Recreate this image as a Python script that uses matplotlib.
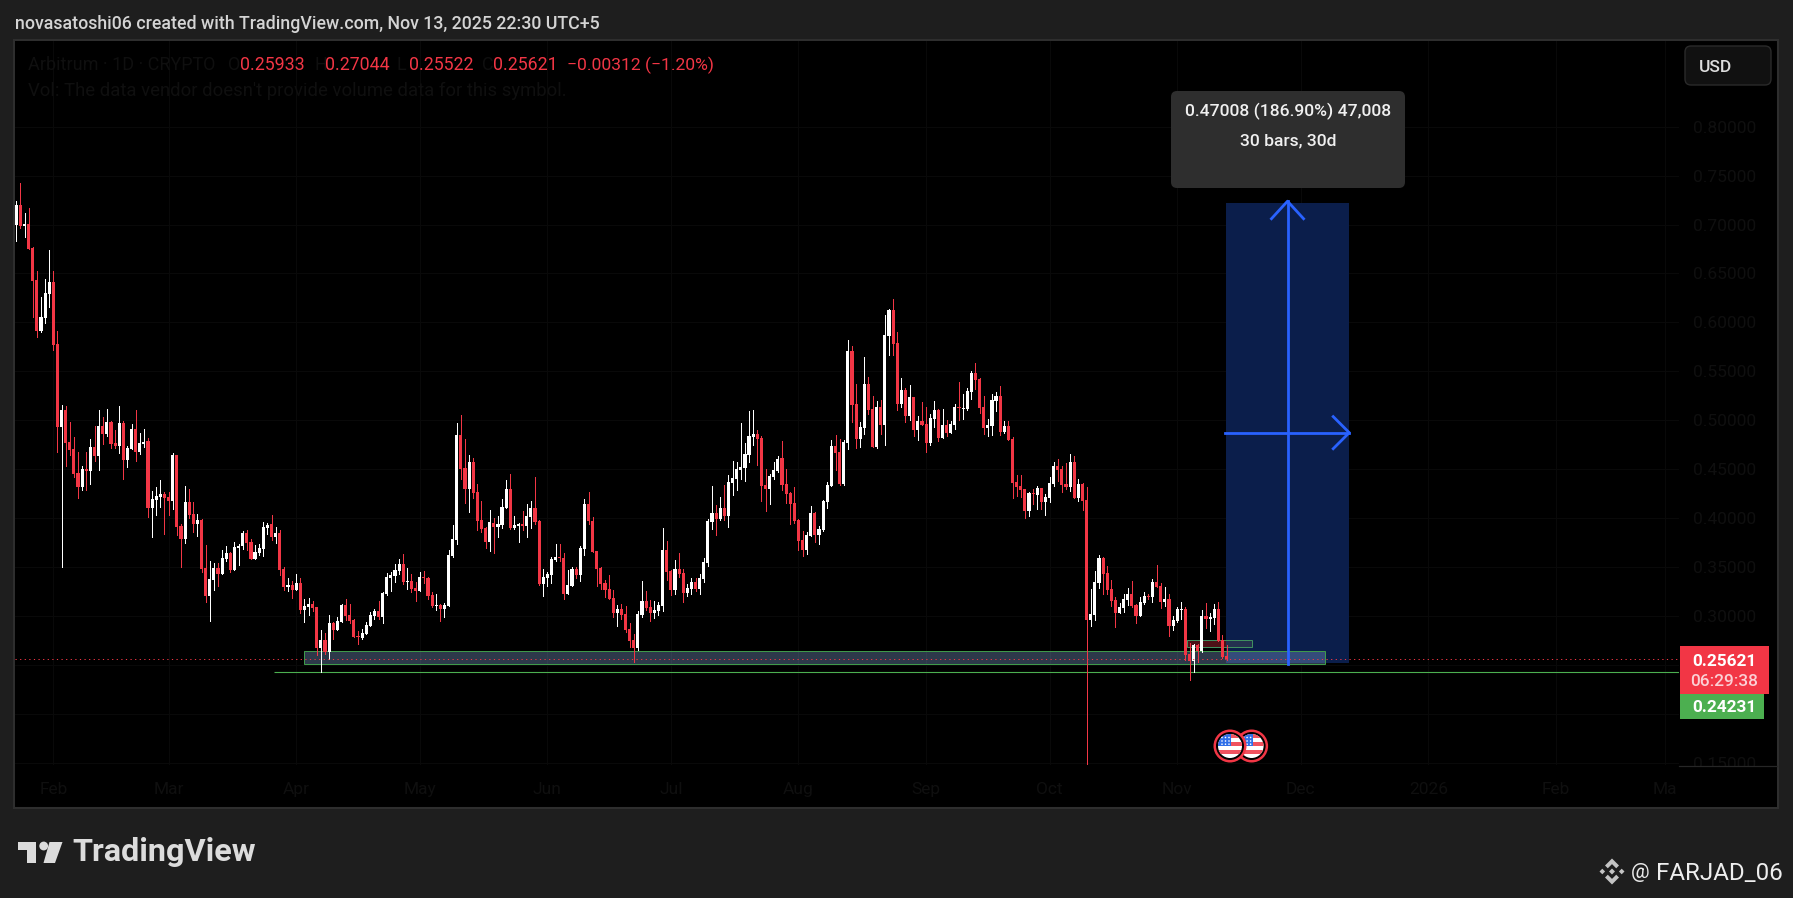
import numpy as np
import matplotlib
matplotlib.use("Agg")
import matplotlib.pyplot as plt
from matplotlib.patches import Rectangle, FancyBboxPatch, Circle, Polygon

plt.rcParams['font.family'] = ['Roboto', 'DejaVu Sans']

# daily candles, Arbitrum 1D, first bar is Jan 23 2025
highs = [
    .724,.742,.712,.717,.677,.653,.626,.644,.674,.653,
    .591,.516,.515,.498,.483,.468,.453,.468,.481,.494,
    .510,.503,.512,.499,.490,.515,.499,.474,.496,.511,
    .487,.491,.482,.428,.432,.439,.427,.427,.467,.465,
    .394,.433,.430,.416,.404,.399,.373,.356,.354,.354,
    .367,.371,.365,.376,.374,.387,.388,.379,.373,.374,
    .396,.395,.403,.391,.388,.350,.339,.336,.343,.339,
    .317,.318,.315,.309,.286,.283,.301,.294,.299,.312,
    .317,.312,.297,.285,.287,.294,.304,.307,.315,.325,
    .344,.345,.353,.358,.363,.349,.343,.335,.345,.346,
    .340,.324,.322,.312,.313,.367,.393,.497,.505,.481,
    .465,.461,.435,.418,.391,.408,.400,.402,.420,.439,
    .445,.402,.395,.407,.414,.418,.442,.398,.348,.345,
    .360,.374,.374,.364,.347,.350,.350,.371,.420,.427,
    .401,.366,.350,.337,.342,.327,.311,.312,.310,.293,
    .282,.305,.336,.326,.316,.315,.314,.390,.377,.347,
    .357,.364,.348,.333,.339,.339,.343,.359,.399,.433,
    .413,.422,.434,.444,.458,.457,.497,.477,.509,.510,
    .490,.484,.450,.445,.457,.463,.479,.450,.427,.432,
    .399,.387,.386,.412,.406,.392,.419,.437,.480,.485,
    .481,.480,.582,.576,.537,.498,.565,.544,.525,.520,
    .521,.608,.614,.624,.590,.543,.533,.536,.524,.504,
    .519,.514,.506,.520,.512,.512,.500,.499,.517,.539,
    .527,.533,.550,.559,.543,.525,.501,.527,.529,.535,
    .499,.499,.483,.444,.444,.430,.427,.430,.433,.431,
    .425,.442,.457,.460,.453,.456,.466,.463,.440,.436,
    .432,.328,.346,.362,.360,.351,.337,.319,.313,.322,
    .329,.336,.312,.319,.325,.322,.338,.352,.334,.330,
    .322,.300,.309,.314,.309,.272,.271,.271,.306,.313,
    .303,.312,.314,.281,.27044]
body_tops = [
    .720,.720,.701,.701,.676,.643,.606,.630,.641,.641,
    .578,.511,.511,.478,.471,.446,.450,.450,.473,.473,
    .494,.494,.498,.498,.477,.497,.497,.472,.491,.491,
    .477,.478,.479,.420,.423,.425,.425,.422,.464,.464,
    .392,.416,.416,.404,.398,.398,.349,.338,.349,.349,
    .359,.364,.364,.370,.372,.385,.385,.376,.365,.369,
    .391,.393,.394,.385,.385,.348,.332,.332,.334,.334,
    .310,.312,.312,.309,.275,.275,.293,.293,.295,.311,
    .311,.301,.296,.280,.283,.291,.301,.305,.305,.323,
    .340,.342,.347,.353,.353,.336,.336,.329,.340,.340,
    .339,.321,.311,.311,.311,.362,.379,.485,.485,.451,
    .457,.457,.427,.398,.390,.396,.395,.394,.411,.430,
    .430,.393,.394,.394,.402,.410,.410,.397,.340,.343,
    .358,.360,.3603,.359,.332,.348,.348,.369,.414,.414,
    .397,.366,.349,.334,.328,.318,.307,.307,.302,.287,
    .275,.302,.315,.315,.309,.306,.311,.367,.367,.346,
    .348,.348,.344,.329,.335,.335,.339,.355,.397,.405,
    .405,.410,.410,.437,.441,.450,.452,.466,.484,.486,
    .486,.482,.434,.443,.449,.460,.461,.435,.426,.415,
    .398,.378,.383,.405,.405,.389,.418,.434,.474,.474,
    .468,.478,.571,.571,.517,.493,.537,.537,.512,.514,
    .514,.587,.613,.613,.579,.531,.531,.524,.524,.499,
    .499,.496,.502,.510,.510,.495,.495,.496,.514,.5135,
    .5125,.530,.548,.548,.542,.514,.495,.521,.525,.525,
    .494,.494,.481,.437,.433,.430,.426,.4257,.431,.431,
    .422,.436,.453,.453,.450,.435,.457,.457,.435,.435,
    .419,.302,.335,.359,.359,.344,.328,.316,.309,.317,
    .322,.322,.311,.314,.320,.3204,.335,.335,.331,.317,
    .317,.296,.307,.307,.307,.261,.270,.270,.300,.300,
    .299,.307,.307,.275,.25933]
body_bottoms = [
    .700,.699,.699,.675,.642,.591,.591,.605,.629,.577,
    .493,.493,.477,.470,.445,.432,.432,.448,.448,.463,
    .463,.486,.486,.476,.474,.474,.459,.459,.471,.468,
    .468,.476,.410,.410,.419,.422,.421,.417,.417,.391,
    .379,.379,.403,.394,.394,.348,.320,.320,.337,.343,
    .343,.358,.347,.347,.369,.371,.375,.358,.358,.364,
    .368,.390,.381,.381,.347,.330,.330,.327,.327,.306,
    .306,.309,.308,.267,.267,.263,.263,.286,.286,.294,
    .300,.295,.279,.279,.278,.282,.290,.300,.299,.299,
    .322,.339,.341,.346,.335,.335,.328,.326,.326,.339,
    .320,.310,.310,.307,.307,.310,.361,.378,.450,.430,
    .430,.426,.397,.389,.376,.376,.391,.391,.393,.410,
    .390,.390,.392,.392,.392,.401,.396,.333,.333,.339,
    .342,.357,.3593,.322,.322,.331,.342,.342,.368,.397,
    .365,.348,.333,.327,.317,.303,.303,.301,.286,.274,
    .267,.267,.301,.308,.303,.303,.305,.310,.345,.327,
    .327,.343,.323,.323,.328,.328,.328,.338,.354,.396,
    .399,.399,.402,.402,.436,.440,.449,.451,.465,.483,
    .481,.433,.430,.430,.442,.448,.434,.425,.414,.397,
    .377,.367,.367,.382,.383,.383,.388,.416,.433,.467,
    .435,.435,.477,.516,.481,.481,.492,.510,.473,.473,
    .495,.495,.586,.578,.517,.517,.504,.504,.490,.490,
    .495,.477,.477,.501,.482,.482,.487,.487,.495,.5125,
    .5115,.512,.529,.541,.513,.492,.492,.494,.520,.488,
    .488,.480,.436,.432,.429,.407,.407,.4247,.424,.416,
    .416,.421,.435,.449,.434,.432,.432,.421,.421,.418,
    .296,.296,.301,.334,.343,.327,.315,.303,.303,.308,
    .316,.310,.300,.300,.313,.3194,.319,.330,.314,.314,
    .290,.290,.295,.306,.260,.254,.254,.264,.264,.297,
    .297,.298,.274,.258,.25621]
lows = [
    .683,.697,.687,.675,.606,.585,.590,.599,.616,.572,
    .468,.350,.453,.465,.442,.421,.429,.429,.435,.458,
    .449,.476,.484,.472,.472,.467,.440,.452,.471,.458,
    .466,.473,.401,.381,.403,.411,.384,.403,.409,.383,
    .350,.375,.400,.386,.382,.345,.314,.295,.327,.331,
    .343,.356,.345,.347,.352,.368,.367,.358,.358,.362,
    .361,.384,.378,.375,.342,.327,.326,.318,.327,.303,
    .294,.301,.305,.260,.243,.261,.256,.276,.286,.294,
    .296,.293,.279,.271,.276,.282,.290,.297,.297,.293,
    .321,.326,.335,.343,.333,.328,.325,.315,.326,.334,
    .317,.309,.306,.295,.299,.310,.360,.374,.440,.415,
    .406,.421,.388,.386,.369,.366,.364,.381,.390,.410,
    .389,.389,.376,.388,.381,.390,.394,.332,.320,.331,
    .334,.356,.356,.317,.322,.331,.339,.336,.362,.394,
    .365,.331,.328,.319,.317,.299,.290,.297,.284,.268,
    .253,.265,.299,.306,.295,.298,.301,.305,.337,.321,
    .322,.340,.314,.320,.322,.326,.322,.335,.351,.389,
    .383,.398,.398,.391,.424,.429,.440,.438,.457,.475,
    .454,.418,.407,.414,.440,.447,.429,.415,.394,.395,
    .367,.361,.363,.382,.376,.374,.387,.410,.433,.449,
    .434,.434,.471,.498,.472,.473,.486,.506,.473,.472,
    .486,.475,.567,.567,.510,.514,.498,.500,.484,.480,
    .495,.468,.475,.493,.479,.482,.484,.487,.491,.500,
    .501,.510,.522,.532,.507,.486,.484,.485,.509,.485,
    .487,.480,.421,.423,.422,.400,.402,.414,.409,.409,
    .403,.416,.433,.438,.427,.430,.428,.421,.418,.408,
    .148,.290,.296,.329,.322,.322,.310,.289,.303,.304,
    .311,.309,.293,.300,.312,.317,.314,.330,.308,.310,
    .280,.286,.294,.297,.255,.235,.243,.253,.263,.288,
    .285,.292,.274,.257,.25522]
# W = white (up) candle, R = red (down) candle
directions = (
    "WRWRRRWWWR" "RWRRRRWRWR" "WRWRRWRWWR" "WWRWWWRRWR" "RWRRWRRWWR"
    "WWRWWWRRWW" "WWRWRRWRWR" "WWRRWRWRWW" "RRRRWWWWRW" "WWWWRWRRWR"
    "RRWRWWWWRR" "WRRRRWRWWW" "RWWRWWRRWW" "WWRRWWRWWR" "RRRRRRWRRR"
    "RWWRRWWWRR" "WRRWWRWWWW" "RWRWWWWWWW" "RRRWWWRRRR" "RRWWRWWWWR"
    "RWWRRWWRRW" "RWWRRWRWRW" "RRWWRWRWWR" "WWWRRRWWWR" "WRRRRRWRWR"
    "WWWRRRWRWR" "RWWWRRRRWW" "WRRWWRWRRW" "RWWWRRWRWR" "WWRRR")

# tick labels
month_bars = [9, 37, 68, 98, 129, 159, 190, 221, 251, 282, 312, 343, 374, 400.5]
month_labels = ["Feb", "Mar", "Apr", "May", "Jun", "Jul", "Aug", "Sep", "Oct", "Nov", "Dec", "2026", "Feb", "Ma"]
price_ticks = [.15, .20, .25, .30, .35, .40, .45, .50, .55, .60, .65, .70, .75, .80]
# these two sit behind the price tags in the reference
hidden_prices = [.20, .25]

# levels and drawings
last_price = 0.25621
support_price = 0.24231
zone_top, zone_bottom = 0.2639, 0.2513
zone_start, zone_end = 70, 318
small_top, small_bottom = 0.2755, 0.2686
small_start, small_mid, small_end = 284.3, 293.8, 300.1
pos_start, pos_end = 293.8, 323.8
pos_base, pos_height = 0.2523, 0.47008

RED = "#f23645"
GREEN = "#4caf50"
BLUE = "#2962ff"
GHOST = "#0f0f0f"
BG = "#1e1e1e"
W, H = 1793, 898

fig = plt.figure(figsize=(W / 100, H / 100), dpi=100, facecolor=BG)

# frame behind everything, pixel coords
back = fig.add_axes([0, 0, 1, 1], zorder=0)
back.set_xlim(0, W)
back.set_ylim(H, 0)
back.axis("off")
back.add_patch(Rectangle((14, 40), 1764, 768, facecolor="black", edgecolor="#2e2e2e", linewidth=1.5))

# price pane
ax = fig.add_axes([15 / W, 1 - 765 / H, (1679 - 15) / W, (765 - 41) / H], zorder=1)
ax.set_facecolor("black")
ax.set_xlim(-0.316, 403.9)
ax.set_ylim(0.1477, 0.8876)
for s in ax.spines.values():
    s.set_visible(False)
ax.set_xticks(month_bars)
ax.set_xticklabels(month_labels)
ax.yaxis.tick_right()
ax.set_yticks(price_ticks)
ax.set_yticklabels(["" if p in hidden_prices else "%.5f" % p for p in price_ticks])
ax.tick_params(axis="x", length=0, pad=12, labelcolor=GHOST, labelsize=12.5)
ax.tick_params(axis="y", length=0, pad=10, labelcolor=GHOST, labelsize=12.5)
ax.grid(True, color="#090909", linewidth=0.72)
ax.set_axisbelow(True)

# long position box with arrows
ax.add_patch(Rectangle((pos_start, pos_base), pos_end - pos_start, pos_height,
                       facecolor="#0b1e4b", edgecolor="none", zorder=1))

# support zone and small box
ax.add_patch(Rectangle((zone_start, zone_bottom), zone_end - zone_start, zone_top - zone_bottom,
                       facecolor="#7f9fd0", alpha=0.36, edgecolor="none", zorder=2))
ax.add_patch(Rectangle((zone_start, zone_bottom), zone_end - zone_start, zone_top - zone_bottom,
                       facecolor="none", edgecolor="#3f9a4a", linewidth=0.72, zorder=2.1))
ax.add_patch(Rectangle((small_start, small_bottom), small_mid - small_start, small_top - small_bottom,
                       facecolor="#4d1016", edgecolor="none", zorder=2))
ax.add_patch(Rectangle((small_mid, small_bottom), small_end - small_mid, small_top - small_bottom,
                       facecolor="#24304f", edgecolor="none", zorder=2))
ax.add_patch(Rectangle((small_start, small_bottom), small_end - small_start, small_top - small_bottom,
                       facecolor="none", edgecolor="#3f8f5f", linewidth=0.72, zorder=2.1))

# candles
x = np.arange(len(highs))
up = np.array([d == "W" for d in directions])
tops = np.array(body_tops)
bottoms = np.array(body_bottoms)
candle_colors = np.where(up, "#ffffff", RED)
ax.vlines(x, lows, highs, colors=candle_colors, linewidth=0.7, zorder=3, antialiased=False)
ax.bar(x, tops - bottoms, bottom=bottoms, width=0.76, color=candle_colors, linewidth=0, zorder=3.1, antialiased=False)

# level lines
ax.hlines(support_price, 62.6, ax.get_xlim()[1], color=GREEN, linewidth=0.8, zorder=2.5)
ax.axhline(last_price, color=RED, linewidth=0.72, linestyle=(0, (1.2, 3.4)), zorder=3.5)

# arrows of the position tool
mid_x = (pos_start + pos_end) / 2
top_y = pos_base + pos_height
mid_y = pos_base + pos_height / 2
ax.plot([mid_x, mid_x], [pos_base - 0.0013, top_y + 0.0015], color=BLUE, linewidth=2, zorder=4)
ax.plot([mid_x - 3.9, mid_x, mid_x + 3.9], [top_y - 0.0164, top_y + 0.0015, top_y - 0.0164],
        color=BLUE, linewidth=2, zorder=4)
ax.plot([pos_start - 0.2, pos_end], [mid_y, mid_y], color=BLUE, linewidth=2, zorder=4)
ax.plot([pos_end - 3.9, pos_end, pos_end - 3.9], [mid_y + 0.0164, mid_y, mid_y - 0.0164],
        color=BLUE, linewidth=2, zorder=4)

# everything outside the data, pixel coords
top = fig.add_axes([0, 0, 1, 1], zorder=2)
top.set_xlim(0, W)
top.set_ylim(H, 0)
top.axis("off")
top.patch.set_alpha(0)

# bottom of price scale
top.add_patch(Rectangle((1680, 766), 97, 41, facecolor="black", edgecolor="none"))
top.plot([1679, 1777], [765.5, 765.5], color="#262626", linewidth=0.9)

top.text(15, 24, "novasatoshi06 created with TradingView.com, Nov 13, 2025 22:30 UTC+5",
         color="#d4d4d4", fontsize=12.8, fontweight="medium", va="center")

# legend row, label letters are nearly black
top.text(27.5, 65, "Arbitrum · 1D · CRYPTO", color=GHOST, fontsize=13, va="center")
top.text(228, 65, "O", color=GHOST, fontsize=13, va="center")
top.text(315, 65, "H", color=GHOST, fontsize=13, va="center")
top.text(397, 65, "L", color=GHOST, fontsize=13, va="center")
top.text(482, 65, "C", color=GHOST, fontsize=13, va="center")
top.text(240, 65, "0.25933", color=RED, fontsize=12.8, va="center")
top.text(325.5, 65, "0.27044", color=RED, fontsize=12.8, va="center")
top.text(408.5, 65, "0.25522", color=RED, fontsize=12.8, va="center")
top.text(493.5, 65, "0.25621", color=RED, fontsize=12.8, va="center")
top.text(567, 65, "−0.00312 (−1.20%)", color=RED, fontsize=12.6, va="center")
top.text(27.5, 91, "Vol: The data vendor doesn't provide volume data for this symbol.",
         color=GHOST, fontsize=13.3, va="center")

# USD button
top.add_patch(FancyBboxPatch((1689, 50), 78, 31, boxstyle="round,pad=4,rounding_size=6",
                             facecolor="#111111", edgecolor="#2a2a2a", linewidth=1))
top.text(1699, 67, "USD", color="#dddddd", fontsize=12.6, fontweight="medium", va="center")

# measure tooltip
top.add_patch(FancyBboxPatch((1175, 95), 226, 89, boxstyle="round,pad=4,rounding_size=6",
                             facecolor="#2e2e2e", edgecolor="none"))
top.text(1288, 111, "0.47008 (186.90%) 47,008", color="#f0f0f0", fontsize=12.6,
         fontweight="medium", ha="center", va="center")
top.text(1288, 141, "30 bars, 30d", color="#f0f0f0", fontsize=12.6,
         fontweight="medium", ha="center", va="center")

# price tags
top.add_patch(Rectangle((1679.5, 645.7), 89.5, 48.3, facecolor=RED, edgecolor="none"))
top.add_patch(Rectangle((1679.5, 694), 84, 24.7, facecolor=GREEN, edgecolor="none"))
top.text(1724, 661, "0.25621", color="white", fontsize=12.4, fontweight="bold", ha="center", va="center")
top.text(1724, 681.5, "06:29:38", color="#fbd0d5", fontsize=12.4, fontweight="medium", ha="center", va="center")
top.text(1724, 707, "0.24231", color="white", fontsize=12.4, fontweight="bold", ha="center", va="center")


def flag(cx, cy):
    top.add_patch(Circle((cx, cy), 16.5, facecolor=RED, edgecolor="none"))
    top.add_patch(Circle((cx, cy), 14, facecolor="black", edgecolor="none"))
    clip = Circle((cx, cy), 12, facecolor="white", edgecolor="none")
    top.add_patch(clip)
    for i, yy in enumerate(np.arange(cy - 12, cy + 12, 4)):
        if i % 2 == 0:
            st = Rectangle((cx - 12, yy), 24, 4, facecolor="#f0525f", edgecolor="none")
            top.add_patch(st)
            st.set_clip_path(clip)
    canton = Rectangle((cx - 12, cy - 12), 13, 12, facecolor="#2f6fe8", edgecolor="none")
    top.add_patch(canton)
    canton.set_clip_path(clip)
    for dx in (-8, -4.5, -1):
        for dy in (-8.5, -5, -1.8):
            top.add_patch(Circle((cx + dx, cy + dy), 0.8, facecolor="white", edgecolor="none"))


flag(1251.6, 746)
flag(1230, 746)

# TradingView logo
LOGO = "#dcdcdc"
top.add_patch(Polygon([(18, 842), (36, 842), (36, 863), (27, 863), (27, 850), (18, 850)], facecolor=LOGO, edgecolor="none"))
top.add_patch(Circle((43.7, 846), 4.4, facecolor=LOGO, edgecolor="none"))
top.add_patch(Polygon([(49.5, 842), (62.5, 842), (55, 863), (43.5, 863)], facecolor=LOGO, edgecolor="none"))
top.text(72.5, 852, "TradingView", color=LOGO, fontsize=23.3, fontweight="bold", va="center")

# watermark with diamond mark
DIA = "#c4c4c4"
cx, cy = 1612, 871.5
for sign in (-1, 1):
    top.add_patch(Polygon([(cx, cy + sign * 13), (cx + 7, cy + sign * 6), (cx + 4.2, cy + sign * 3.2),
                           (cx, cy + sign * 7.4), (cx - 4.2, cy + sign * 3.2), (cx - 7, cy + sign * 6)],
                          facecolor=DIA, edgecolor="none"))
    top.add_patch(Polygon([(cx + sign * 9.7, cy - 2.8), (cx + sign * 12.5, cy), (cx + sign * 9.7, cy + 2.8),
                           (cx + sign * 6.9, cy)], facecolor=DIA, edgecolor="none"))
top.add_patch(Polygon([(cx, cy - 3), (cx + 3, cy), (cx, cy + 3), (cx - 3, cy)], facecolor=DIA, edgecolor="none"))
top.text(1631, 872, "@", color="#e8e8e8", fontsize=15, va="center")
top.text(1656, 873, "FARJAD_06", color="#eeeeee", fontsize=17.4, va="center")

fig.savefig("out.png", dpi=100, facecolor=BG)
